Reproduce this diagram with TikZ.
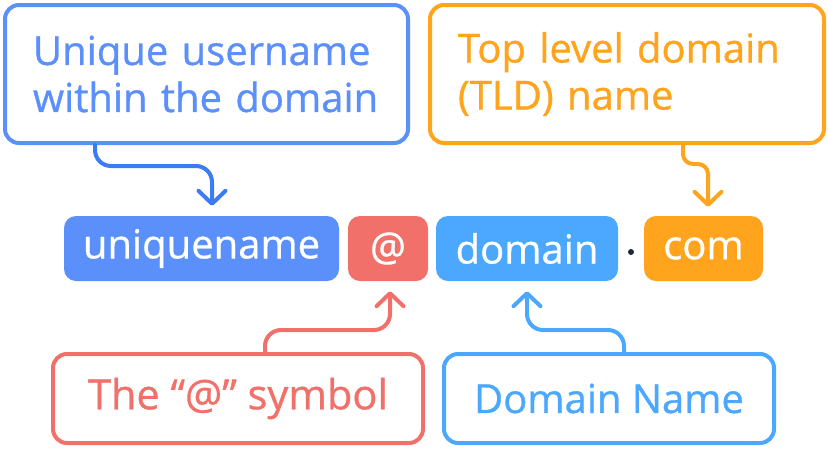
\documentclass[tikz,border=0pt]{standalone}
\usepackage{fontspec}
\setmainfont{Open Sans}[FakeBold=0.8]
\usetikzlibrary{positioning,calc,arrows.meta}
\definecolor{userblue}{HTML}{5B8FF9}
\definecolor{arrowblue}{HTML}{3B7BF6}
\definecolor{atred}{HTML}{F2706A}
\definecolor{domblue}{HTML}{4CA8FF}
\definecolor{tldorange}{HTML}{FFA41C}
\definecolor{dotgray}{HTML}{1F2937}

\begin{document}
\begin{tikzpicture}[x=1pt,y=-1pt,every node/.style={font=\fontsize{40}{47}\selectfont},
  label box/.style={rectangle,rounded corners=14pt,draw,line width=4pt,fill=white,inner xsep=28pt,align=left},
  pill/.style={rectangle,rounded corners=12pt,minimum height=65pt,text=white,inner sep=0pt},
  conn/.style={line width=4pt,line cap=round,line join=round,rounded corners=16pt,
    -{Straight Barb[length=13pt,width=27pt,line cap=round,line join=round]}}]
\useasboundingbox (0,0) rectangle (828,448);
\node[label box,draw=userblue,text=userblue,text width=347pt,minimum height=138pt] (topL) at (206.5,74) {Unique username\\within the domain};
\node[label box,draw=tldorange,text=tldorange,text width=338pt,minimum height=138pt] (topR) at (627,74) {Top level domain\\(TLD) name};
\node[pill,fill=userblue,minimum width=275pt] (uniq) at (201.5,248.5) {uniquename};
\node[pill,fill=atred,minimum width=80pt] (at) at (388,248.5) {@};
\node[pill,fill=domblue,minimum width=182pt] (dom) at (527,248.5) {domain};
\node[circle,fill=dotgray,inner sep=0pt,minimum size=6pt] (dot) at (631,252) {};
\node[pill,fill=tldorange,minimum width=119pt] (com) at (703.5,248.5) {com};
\node[label box,draw=atred,text=atred,align=center,minimum width=370pt,minimum height=89pt,font=\fontsize{41.5}{47}\selectfont] (botL) at (238,398.5) {The “@” symbol};
\node[label box,draw=domblue,text=domblue,align=center,minimum width=330pt,minimum height=89pt] (botR) at (609,398.5) {Domain Name};
\draw[conn,arrowblue] ($(topL.south west)+(92,0)$) -- ++(0,21) -| ($(uniq.north)+(10.5,-10)$);
\draw[conn,tldorange,rounded corners=10pt] ($(topR.south west)+(255,0)$) -- ++(0,19) -| ($(com.north)+(4.5,-9)$);
\draw[conn,atred] ($(botL.north west)+(214,0)$) -- ++(0,-22) -| ($(at.south)+(2,10)$);
\draw[conn,domblue] ($(botR.north west)+(182,0)$) -- ++(0,-22) -| ($(dom.south)+(0,10)$);
\end{tikzpicture}
\end{document}
